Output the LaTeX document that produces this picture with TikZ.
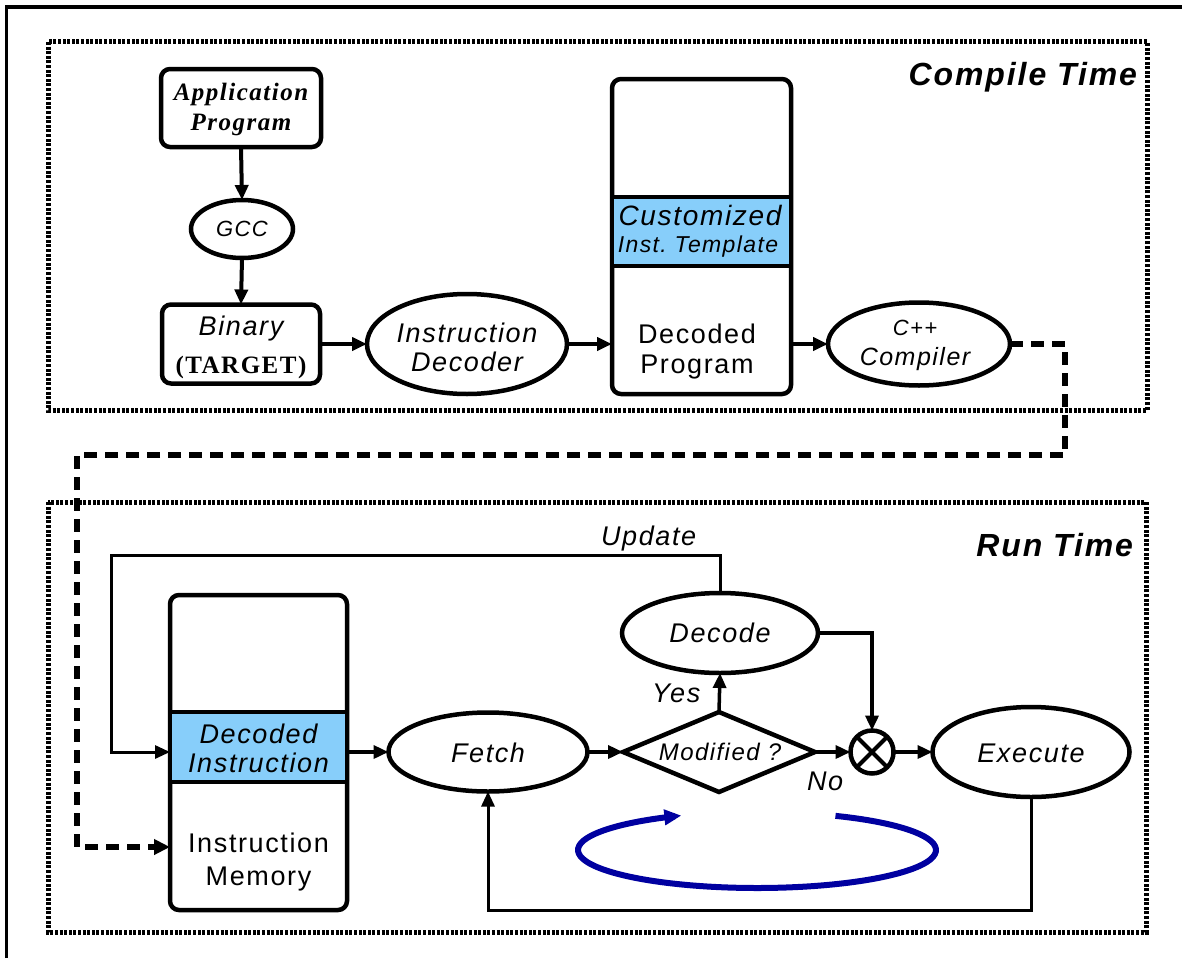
\documentclass[tikz,border=0pt]{standalone}
\usepackage{fontspec}
\usetikzlibrary{shapes.geometric,arrows.meta}
\newfontfamily\arialf[LetterSpace=6]{Liberation Sans}
\newfontfamily\timesf[LetterSpace=6]{Liberation Serif}
\definecolor{bandblue}{RGB}{135,206,250}
\definecolor{loopblue}{RGB}{0,0,160}
\begin{document}
\begin{tikzpicture}[x=1pt,y=-1pt,
  every node/.style={inner sep=0pt, outer sep=0pt},
  bx/.style={draw, line width=4.5pt, rounded corners=9pt},
  band/.style={draw, fill=bandblue, line width=4.5pt},
  ell/.style={draw, ellipse, line width=4.5pt},
  it/.style={font=\arialf\itshape\fontsize{27}{29}\selectfont, align=center},
  up/.style={font=\arialf\fontsize{27}{30}\selectfont, align=center},
  big/.style={font=\arialf\bfseries\itshape\fontsize{32}{34}\selectfont},
  frame/.style={line width=5pt, dash pattern=on 3pt off 1.6pt},
  arr/.style={line width=4pt, -{Triangle[length=15pt,width=13pt]}},
  rarr/.style={line width=3.5pt, -{Triangle[length=15pt,width=13pt]}},
  tarr/.style={line width=3pt, -{Triangle[length=15pt,width=13pt]}},
  dasharr/.style={line width=6pt, dash pattern=on 13pt off 8pt, -{Triangle[length=16pt,width=15pt]}}
]
\useasboundingbox (0,0) rectangle (1190,958);
% outer frame (top and left edges)
\draw[line width=3.5pt] (6.5,958) -- (6.5,7) -- (1182,7);

% section frames
\draw[frame] (48,42) rectangle (1147,410);
\draw[frame] (48,502) rectangle (1146,932);
\node[big, anchor=base east] (ctlbl) at (1137,85) {Compile Time};
\node[big, anchor=base east] (rtlbl) at (1133,556) {Run Time};

% ---------------- compile time ----------------
\node[bx, minimum width=160, minimum height=78] (AP) at (241,108) {};
\node[font=\timesf\bfseries\itshape\fontsize{25}{30}\selectfont, align=center] (APt) at (241,109) {Application\\Program};
\node[ell, minimum width=102, minimum height=58] (GCC) at (242,229) {};
\node[font=\arialf\itshape\fontsize{22}{24}\selectfont] (GCCt) at (242,229) {GCC};
\node[bx, minimum width=158, minimum height=79] (BIN) at (241,344) {};
\node[it, anchor=base] (BINa) at (241,335) {Binary};
\node[font=\timesf\bfseries\fontsize{25}{28}\selectfont, anchor=base] (BINb) at (241,373) {(TARGET)};
\node[ell, minimum width=200, minimum height=100] (ID) at (467,344) {};
\node[it] (IDt) at (467,347) {Instruction\\Decoder};
\node[bx, minimum width=179, minimum height=315] (DP) at (701.5,236.5) {};
\node[band, minimum width=179, minimum height=69] (DPband) at (701.5,231.5) {};
\node[font=\arialf\itshape\fontsize{28}{30}\selectfont, anchor=base] (cust) at (700,225) {Customized};
\node[font=\arialf\itshape\fontsize{23}{26}\selectfont, anchor=base] (tmpl) at (698,252) {Inst.\ Template};
\node[up] (DPt) at (697,352) {Decoded\\Program};
\node[ell, minimum width=182, minimum height=83] (CPP) at (919,344) {};
\node[font=\arialf\itshape\fontsize{22}{24}\selectfont, anchor=base] (cppa) at (915,335) {C++};
\node[font=\arialf\itshape\fontsize{25}{28}\selectfont, anchor=base] (cppb) at (915,365) {Compiler};

\draw[arr] (AP.south) -- (GCC.north);
\draw[arr] (GCC.south) -- (BIN.north);
\draw[arr] (BIN.east) -- (ID.west);
\draw[arr] (ID.east) -- (ID.east -| DP.west);
\draw[arr] (DP.east |- CPP.west) -- (CPP.west);

% dashed link
\coordinate (dA) at (1065,455);
\coordinate (dB) at (77,455);
\coordinate (dC) at (77,847);

% ---------------- run time ----------------
\node[bx, minimum width=177, minimum height=315] (IM) at (258.5,752.5) {};
\node[band, minimum width=177, minimum height=70] (IMband) at (258.5,747) {};
\node[it] (IMbt) at (258.5,748) {Decoded\\Instruction};
\node[font=\arialf\fontsize{27}{33}\selectfont, align=center] (IMt) at (258.5,862) {Instruction\\Memory};

\draw[dasharr] (CPP.east) -| (dA) -- (dB) -- (dC) -- (IM.west |- dC);

\node[ell, minimum width=199, minimum height=79] (FE) at (488,752) {};
\node[it] (FEt) at (488,753) {Fetch};
\node[draw, diamond, aspect=2.4, line width=4.5pt, minimum width=192, minimum height=80] (MOD) at (719,752) {};
\node[font=\arialf\itshape\fontsize{24}{26}\selectfont] (MODt) at (720,752) {Modified ?};
\node[ell, minimum width=196, minimum height=80] (DEC) at (720,633) {};
\node[it] (DECt) at (720,633) {Decode};
\node[draw, circle, line width=4.5pt, minimum size=43] (X) at (872,752) {};
\draw[line width=4pt] (X.north west) -- (X.south east);
\draw[line width=4pt] (X.north east) -- (X.south west);
\node[ell, minimum width=197, minimum height=90] (EX) at (1031,752) {};
\node[it] (EXt) at (1031,753) {Execute};

\node[it, anchor=base west] (upd) at (601,545) {Update};
\node[it, anchor=base west] (yes) at (652,702) {Yes};
\node[it, anchor=base west] (no) at (807,790) {No};

\coordinate (upL) at (111,555);
\coordinate (retY) at (0,910);
\draw[tarr] (DEC.north) |- (upL) |- (IM.west |- FE.west);
\draw[rarr] (IM.east |- FE.west) -- (FE.west);
\draw[rarr] (FE.east) -- (MOD.west);
\draw[rarr] (MOD.north) -- (DEC.south);
\draw[rarr] (MOD.east) -- (X.west);
\draw[rarr] (DEC.east) -| (X.north);
\draw[rarr] (X.east) -- (EX.west);
\draw[tarr] (EX.south) -- (EX.south |- retY) -| (FE.south);

% blue loop
\draw[loopblue, line width=6pt, -{Triangle[length=17pt,width=15pt]}]
  plot[smooth, domain=-64:245, samples=80] ({757+179*cos(\x)},{850+38*sin(\x)});
\end{tikzpicture}
\end{document}
